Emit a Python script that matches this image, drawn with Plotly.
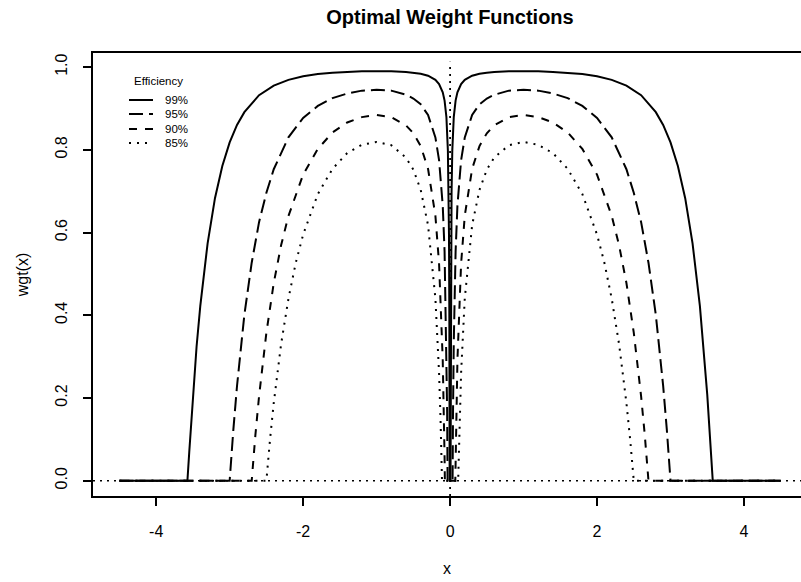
import plotly.graph_objects as go

# ---- data ----
series_names = ["99%", "95%", "90%", "85%"]

x99 = [-4.5, -3.575, -3.55, -3.5, -3.45, -3.4, -3.3, -3.2, -3.1, -3.0, -2.9, -2.8, -2.6, -2.4, -2.2, -2.0,
       -1.8, -1.6, -1.4, -1.2, -1.0, -0.8, -0.6, -0.5, -0.4, -0.3, -0.2, -0.15, -0.1, -0.075, -0.05, -0.03,
       -0.02, -0.015, -0.01, -0.006,
       0.006, 0.01, 0.015, 0.02, 0.03, 0.05, 0.075, 0.1, 0.15, 0.2, 0.3, 0.4, 0.5, 0.6, 0.8, 1.0, 1.2, 1.4,
       1.6, 1.8, 2.0, 2.2, 2.4, 2.6, 2.8, 2.9, 3.0, 3.1, 3.2, 3.3, 3.4, 3.45, 3.5, 3.55, 3.575, 4.5]
y99 = [0, 0, 0.069, 0.208, 0.325, 0.422, 0.574, 0.683, 0.761, 0.818, 0.860, 0.891, 0.932, 0.955, 0.969, 0.978,
       0.983, 0.986, 0.988, 0.990, 0.990, 0.990, 0.988, 0.986, 0.984, 0.979, 0.969, 0.959, 0.939, 0.919, 0.879, 0.798,
       0.697, 0.596, 0.393, 0,
       0, 0.393, 0.596, 0.697, 0.798, 0.879, 0.919, 0.939, 0.959, 0.969, 0.979, 0.984, 0.986, 0.988, 0.990, 0.990, 0.990, 0.988,
       0.986, 0.983, 0.978, 0.969, 0.955, 0.932, 0.891, 0.860, 0.818, 0.761, 0.683, 0.574, 0.422, 0.325, 0.208, 0.069, 0, 0]

x95 = [-4.5, -3.0, -2.95, -2.9, -2.8, -2.7, -2.6, -2.5, -2.4, -2.2, -2.0, -1.8, -1.6, -1.4, -1.2, -1.0,
       -0.8, -0.6, -0.5, -0.4, -0.3, -0.2, -0.15, -0.1, -0.075, -0.05, -0.04, -0.034,
       0.034, 0.04, 0.05, 0.075, 0.1, 0.15, 0.2, 0.3, 0.4, 0.5, 0.6, 0.8,
       1.0, 1.2, 1.4, 1.6, 1.8, 2.0, 2.2, 2.4, 2.5, 2.6, 2.7, 2.8, 2.9, 2.95, 3.0, 4.5]
y95 = [0, 0, 0.123, 0.229, 0.401, 0.527, 0.625, 0.696, 0.753, 0.830, 0.877, 0.906, 0.925, 0.936, 0.943, 0.945,
       0.943, 0.933, 0.924, 0.910, 0.884, 0.830, 0.775, 0.665, 0.554, 0.333, 0.166, 0,
       0, 0.166, 0.333, 0.554, 0.665, 0.775, 0.830, 0.884, 0.910, 0.924, 0.933, 0.943,
       0.945, 0.943, 0.936, 0.925, 0.906, 0.877, 0.830, 0.753, 0.696, 0.625, 0.527, 0.401, 0.229, 0.123, 0, 0]

x90 = [-4.5, -2.7, -2.65, -2.6, -2.5, -2.4, -2.3, -2.2, -2.0, -1.8, -1.6, -1.4, -1.2, -1.0,
       -0.8, -0.6, -0.5, -0.4, -0.3, -0.2, -0.15, -0.1, -0.075, -0.071,
       0.071, 0.075, 0.1, 0.15, 0.2, 0.3, 0.4, 0.5, 0.6, 0.8,
       1.0, 1.2, 1.4, 1.6, 1.8, 2.0, 2.2, 2.3, 2.4, 2.5, 2.6, 2.65, 2.7, 4.5]
y90 = [0, 0, 0.110, 0.204, 0.358, 0.478, 0.569, 0.640, 0.740, 0.802, 0.842, 0.866, 0.879, 0.884,
       0.879, 0.859, 0.840, 0.809, 0.754, 0.641, 0.525, 0.292, 0.057, 0,
       0, 0.057, 0.292, 0.525, 0.641, 0.754, 0.809, 0.840, 0.859, 0.879,
       0.884, 0.879, 0.866, 0.842, 0.802, 0.740, 0.640, 0.569, 0.478, 0.358, 0.204, 0.110, 0, 0]

x85 = [-4.5, -2.5, -2.45, -2.4, -2.3, -2.2, -2.1, -2.0, -1.8, -1.6, -1.4, -1.2, -1.0,
       -0.8, -0.6, -0.5, -0.4, -0.3, -0.2, -0.15, -0.13, -0.12, -0.11,
       0.11, 0.12, 0.13, 0.15, 0.2, 0.3, 0.4, 0.5, 0.6, 0.8,
       1.0, 1.2, 1.4, 1.6, 1.8, 2.0, 2.1, 2.2, 2.3, 2.4, 2.45, 2.5, 4.5]
y85 = [0, 0, 0.101, 0.188, 0.330, 0.440, 0.527, 0.595, 0.693, 0.754, 0.792, 0.812, 0.819,
       0.811, 0.781, 0.752, 0.703, 0.618, 0.441, 0.261, 0.150, 0.080, 0,
       0, 0.080, 0.150, 0.261, 0.441, 0.618, 0.703, 0.752, 0.781, 0.811,
       0.819, 0.812, 0.792, 0.754, 0.693, 0.595, 0.527, 0.440, 0.330, 0.188, 0.101, 0, 0]

x_ticks = [-4, -2, 0, 2, 4]
x_tick_labels = ["-4", "-2", "0", "2", "4"]
y_ticks = [0.0, 0.2, 0.4, 0.6, 0.8, 1.0]
y_tick_labels = ["0.0", "0.2", "0.4", "0.6", "0.8", "1.0"]

xs = [x99, x95, x90, x85]
ys = [y99, y95, y90, y85]
for a, b in zip(xs, ys):
    assert len(a) == len(b)

# ---- styles ----
dashes = ["solid", "14px,6px", "8px,8px", "2px,6px"]
FONT = "Liberation Sans, Arial, sans-serif"
W, H = 801, 582
ML, MT, MB, MR = 93, 53, 86, 0
PW, PH = W - ML - MR, H - MT - MB

fig = go.Figure()
for name, x, y, d in zip(series_names, xs, ys, dashes):
    fig.add_trace(go.Scatter(x=x, y=y, mode="lines", name=name, showlegend=False,
                             line=dict(color="black", width=2, dash=d)))

# reference lines (abline h=0, v=0, lty=3)
fig.add_shape(type="line", xref="paper", yref="y", x0=0, x1=1, y0=0, y1=0,
              line=dict(color="black", width=1.5, dash="2px,5px"))
fig.add_shape(type="line", xref="x", yref="paper", x0=0, x1=0, y0=0, y1=0.98,
              line=dict(color="black", width=1.8, dash="2px,5px"))

# custom legend (R style)
def px2paper(px, py):
    return (px - ML) / PW, (H - MB - py) / PH

tx, ty = px2paper(132, 81)
fig.add_annotation(x=tx, y=ty, xref="paper", yref="paper", text="Efficiency", showarrow=False,
                   xanchor="left", yanchor="middle", font=dict(family=FONT, size=11.5, color="black"))
leg_y = [100, 114, 129, 143]
for name, d, py in zip(series_names, dashes, leg_y):
    x0, yy = px2paper(129, py)
    x1, _ = px2paper(153, py)
    fig.add_shape(type="line", xref="paper", yref="paper", x0=x0, x1=x1, y0=yy, y1=yy,
                  line=dict(color="black", width=2, dash=d))
    lx, _ = px2paper(163, py)
    fig.add_annotation(x=lx, y=yy, xref="paper", yref="paper", text=name, showarrow=False,
                       xanchor="left", yanchor="middle", font=dict(family=FONT, size=11.5, color="black"))

fig.update_layout(
    width=W, height=H,
    margin=dict(l=ML, r=MR, t=MT, b=MB, pad=0),
    paper_bgcolor="white", plot_bgcolor="white",
    font=dict(family=FONT, size=16, color="black"),
    title=dict(text="<b>Optimal Weight Functions</b>", xref="container", yref="container",
               x=450 / W, y=1 - 17 / H, xanchor="center", yanchor="middle",
               font=dict(family=FONT, size=20, color="black")),
    xaxis=dict(range=[-4.86, 4.776], tickvals=x_ticks, ticktext=x_tick_labels, ticks="outside",
               ticklen=8, tickwidth=1.5,
               tickcolor="black", showline=True, linecolor="black", linewidth=1.5, mirror=True,
               showgrid=False, zeroline=False, ticklabelstandoff=12,
               title=dict(text="x", standoff=24, font=dict(size=16))),
    yaxis=dict(range=[-0.037, 1.034], tickvals=y_ticks, ticktext=y_tick_labels, tickangle=-90,
               ticks="outside", ticklen=8, tickwidth=1.5, tickcolor="black", showline=True,
               linecolor="black", linewidth=1.5, mirror=False, showgrid=False, zeroline=False,
               ticklabelstandoff=10,
               title=dict(text="wgt(x)", standoff=20, font=dict(size=16))),
)

fig.write_html("out.html")
